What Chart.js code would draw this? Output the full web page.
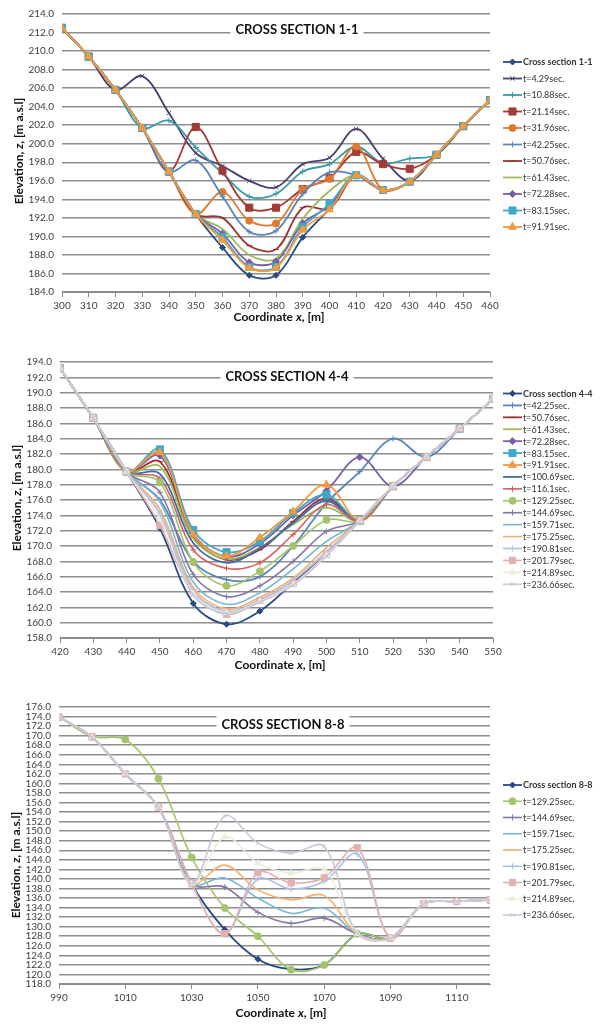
<!DOCTYPE html>
<html>
<head>
<meta charset="utf-8">
<script src="https://cdn.jsdelivr.net/npm/chart.js@4.4.1/dist/chart.umd.min.js"></script>
<style>
  html, body { margin: 0; padding: 0; background: #ffffff; }
  #wrap { position: relative; width: 605px; height: 1027px; overflow: hidden; }
  canvas { position: absolute; left: 0; }
</style>
</head>
<body>
<div id="wrap">
  <canvas id="c1" width="605" height="335" style="top:0px"></canvas>
  <canvas id="c2" width="605" height="335" style="top:340px"></canvas>
  <canvas id="c3" width="605" height="342" style="top:685px"></canvas>
</div>
<script>
// ---------- Cross section 1-1 ----------
const sec11X = [300, 310, 320, 330, 340, 350, 360, 370, 380, 390, 400, 410, 420, 430, 440, 450, 460];
const sec11Ticks = [300, 310, 320, 330, 340, 350, 360, 370, 380, 390, 400, 410, 420, 430, 440, 450, 460];
const sec11Base  = [212.5, 209.4, 205.8, 201.7, 197.0, 192.4, 188.8, 185.8, 185.8, 189.9, 193.0, 196.6, 195.0, 195.9, 198.8, 201.9, 204.7];
const sec11T4_29 = [212.5, 209.4, 205.8, 207.3, 203.3, 199.0, 197.6, 196.0, 195.3, 197.8, 198.5, 201.6, 198.4, 196.0, 198.8, 201.9, 204.7];
const sec11T10_88 = [212.5, 209.4, 205.8, 201.7, 202.5, 199.6, 196.8, 194.3, 194.6, 197.0, 197.8, 199.7, 197.9, 198.4, 198.8, 201.9, 204.7];
const sec11T21_14 = [212.5, 209.4, 205.8, 201.7, 197.0, 201.8, 197.1, 193.1, 193.1, 195.1, 196.3, 199.1, 197.8, 197.3, 198.8, 201.9, 204.7];
const sec11T31_96 = [212.5, 209.4, 205.8, 201.7, 197.0, 192.4, 194.8, 191.7, 191.4, 195.1, 196.2, 199.7, 195.0, 195.9, 198.8, 201.9, 204.7];
const sec11T42_25 = [212.5, 209.4, 205.8, 201.7, 197.0, 198.2, 194.3, 190.5, 190.6, 194.6, 196.9, 196.6, 195.0, 195.9, 198.8, 201.9, 204.7];
const sec11T50_76 = [212.5, 209.4, 205.8, 201.7, 197.0, 192.4, 192.0, 189.0, 188.6, 193.1, 193.0, 196.6, 195.0, 195.9, 198.8, 201.9, 204.7];
const sec11T61_43 = [212.5, 209.4, 205.8, 201.7, 197.0, 192.4, 190.8, 188.0, 187.6, 191.9, 194.9, 196.6, 195.0, 195.9, 198.8, 201.9, 204.7];
const sec11T72_28 = [212.5, 209.4, 205.8, 201.7, 197.0, 192.4, 190.3, 187.2, 187.3, 191.4, 193.3, 196.6, 195.0, 195.9, 198.8, 201.9, 204.7];
const sec11T83_15 = [212.5, 209.4, 205.8, 201.7, 197.0, 192.4, 189.9, 186.7, 186.7, 191.0, 193.5, 196.6, 195.0, 195.9, 198.8, 201.9, 204.7];
const sec11T91_91 = [212.5, 209.4, 205.8, 201.7, 197.0, 192.4, 189.6, 186.6, 186.6, 190.7, 192.9, 196.6, 195.0, 195.9, 198.8, 201.9, 204.7];

// ---------- Cross section 4-4 ----------
const sec44X = [420, 430, 440, 450, 460, 470, 480, 490, 500, 510, 520, 530, 540, 550];
const sec44Ticks = [420, 430, 440, 450, 460, 470, 480, 490, 500, 510, 520, 530, 540, 550];
const sec44Base   = [193.2, 186.7, 179.7, 172.3, 162.5, 159.8, 161.5, 165.2, 168.9, 173.3, 177.8, 181.6, 185.3, 189.2];
const sec44T42_25 = [193.2, 186.7, 179.7, 176.0, 168.0, 165.6, 166.0, 170.0, 175.6, 179.7, 184.0, 181.6, 185.3, 189.2];
const sec44T50_76 = [193.2, 186.7, 179.7, 181.0, 171.2, 168.2, 169.5, 173.2, 176.2, 173.3, 177.8, 181.6, 185.3, 189.2];
const sec44T61_43 = [193.2, 186.7, 179.7, 180.4, 171.0, 168.3, 169.8, 172.8, 175.0, 173.3, 177.8, 181.6, 185.3, 189.2];
const sec44T72_28 = [193.2, 186.7, 179.7, 181.8, 171.6, 168.6, 170.3, 174.0, 177.2, 181.6, 177.8, 181.6, 185.3, 189.2];
const sec44T83_15 = [193.2, 186.7, 179.7, 182.6, 172.1, 169.2, 170.6, 174.3, 176.7, 173.3, 177.8, 181.6, 185.3, 189.2];
const sec44T91_91 = [193.2, 186.7, 179.7, 182.2, 171.5, 168.7, 171.1, 174.5, 178.0, 173.3, 177.8, 181.6, 185.3, 189.2];
const sec44T100_69 = [193.2, 186.7, 179.7, 179.4, 170.4, 167.8, 169.7, 173.0, 175.9, 173.3, 177.8, 181.6, 185.3, 189.2];
const sec44T116_1  = [193.2, 186.7, 179.7, 178.8, 169.5, 167.1, 167.8, 171.5, 175.4, 173.3, 177.8, 181.6, 185.3, 189.2];
const sec44T129_25 = [193.2, 186.7, 179.7, 178.3, 167.9, 164.8, 166.7, 170.0, 173.4, 173.3, 177.8, 181.6, 185.3, 189.2];
const sec44T144_69 = [193.2, 186.7, 179.7, 177.0, 166.3, 163.4, 164.8, 168.0, 171.9, 173.3, 177.8, 181.6, 185.3, 189.2];
const sec44T159_71 = [193.2, 186.7, 179.7, 175.8, 165.3, 162.4, 163.9, 167.0, 170.6, 173.3, 177.8, 181.6, 185.3, 189.2];
const sec44T175_25 = [193.2, 186.7, 179.7, 174.8, 164.6, 161.8, 163.3, 165.8, 169.8, 173.3, 177.8, 181.6, 185.3, 189.2];
const sec44T190_81 = [193.2, 186.7, 179.7, 174.3, 164.2, 161.5, 163.0, 165.5, 169.3, 173.3, 177.8, 181.6, 185.3, 189.2];
const sec44T201_79 = [193.2, 186.7, 179.7, 172.7, 163.9, 161.1, 162.9, 165.1, 168.9, 173.3, 177.8, 181.6, 185.3, 189.2];
const sec44T214_89 = [193.2, 186.7, 179.7, 173.5, 163.8, 161.3, 162.8, 165.0, 168.8, 173.3, 177.8, 181.6, 185.3, 189.2];
const sec44T236_66 = [193.2, 186.7, 179.7, 174.1, 163.6, 161.2, 162.7, 164.9, 168.7, 173.3, 177.8, 181.6, 185.3, 189.2];

// ---------- Cross section 8-8 ----------
const sec88X = [990, 1000, 1010, 1020, 1030, 1040, 1050, 1060, 1070, 1080, 1090, 1100, 1110, 1120];
const sec88Ticks = [990, 1010, 1030, 1050, 1070, 1090, 1110];
const sec88Base    = [173.9, 169.7, 162.0, 155.0, 139.0, 129.4, 123.2, 121.1, 122.0, 128.5, 127.6, 134.8, 135.3, 135.6];
const sec88T129_25 = [173.9, 169.8, 169.2, 161.0, 144.5, 133.9, 128.0, 121.0, 122.0, 128.5, 127.6, 134.8, 135.3, 135.6];
const sec88T144_69 = [173.9, 169.7, 162.0, 155.0, 139.0, 138.3, 133.0, 130.7, 131.8, 128.5, 127.6, 134.8, 135.3, 135.6];
const sec88T159_71 = [173.9, 169.7, 162.0, 155.0, 139.0, 140.2, 136.0, 132.8, 133.9, 128.5, 127.6, 134.8, 135.3, 135.6];
const sec88T175_25 = [173.9, 169.7, 162.0, 155.0, 139.0, 142.9, 137.7, 135.6, 136.5, 128.5, 127.6, 134.8, 135.3, 135.6];
const sec88T190_81 = [173.9, 169.7, 162.0, 155.0, 139.0, 128.5, 140.0, 137.9, 139.5, 145.2, 127.6, 134.8, 135.3, 135.6];
const sec88T201_79 = [173.9, 169.7, 162.0, 155.0, 139.0, 128.5, 141.3, 139.2, 140.3, 146.5, 127.6, 134.8, 135.3, 135.6];
const sec88T214_89 = [173.9, 169.7, 162.0, 155.0, 139.0, 148.8, 143.3, 141.2, 142.0, 128.5, 127.6, 134.8, 135.3, 135.6];
const sec88T236_66 = [173.9, 169.7, 162.0, 155.0, 139.0, 153.2, 147.5, 145.4, 146.8, 128.5, 127.6, 134.8, 135.3, 135.6];

// ---------- Series appearance (by time step) ----------
const STYLE = {
  base:  { color: '#284a82', point: 'rectRot',  r: 3,   w: 1.8 },
  t4:    { color: '#4a3e6e', point: 'crossRot', r: 3,   w: 1.8 },
  t10:   { color: '#3b9aa6', point: 'cross',    r: 3,   w: 1.8 },
  t21:   { color: '#a23a35', point: 'rect',     r: 5,   w: 1.8 },
  t31:   { color: '#e0792e', point: 'circle',   r: 3.5, w: 1.8 },
  t42:   { color: '#5b84b8', point: 'cross',    r: 3,   w: 1.8 },
  t50:   { color: '#9c3130', point: 'line',     r: 3,   w: 1.8 },
  t61:   { color: '#9bbb59', point: 'circle',   r: 0,   w: 1.8 },
  t72:   { color: '#7a5ea6', point: 'rectRot',  r: 3.5, w: 1.8 },
  t83:   { color: '#3fa9c9', point: 'rect',     r: 5,   w: 1.8 },
  t91:   { color: '#f39a3d', point: 'triangle', r: 4.5, w: 1.8 },
  t100:  { color: '#3f6fa8', point: 'circle',   r: 0,   w: 1.8 },
  t116:  { color: '#d2625e', point: 'cross',    r: 3,   w: 1.6 },
  t129:  { color: '#a3c46a', point: 'circle',   r: 3.5, w: 1.6 },
  t144:  { color: '#8676a6', point: 'cross',    r: 3,   w: 1.6 },
  t159:  { color: '#76b8cf', point: 'circle',   r: 0,   w: 1.6 },
  t175:  { color: '#f5ad6c', point: 'circle',   r: 0,   w: 1.6 },
  t190:  { color: '#abc0e4', point: 'cross',    r: 3,   w: 1.6 },
  t201:  { color: '#e3b0b0', point: 'rect',     r: 4.5, w: 1.6 },
  t214:  { color: '#e9efdc', point: 'triangle', r: 3.5, w: 1.6 },
  t236:  { color: '#cbc5da', point: 'crossRot', r: 3,   w: 1.6 }
};

function makeSet(label, xs, ys, st, idx, n) {
  return {
    label: label,
    data: xs.map((x, i) => ({ x: x, y: ys[i] })),
    borderColor: st.color,
    backgroundColor: st.color,
    borderWidth: st.w,
    pointStyle: st.point,
    pointRadius: st.r,
    pointHoverRadius: st.r,
    pointBorderWidth: 1,
    pointBackgroundColor: st.color,
    pointBorderColor: st.color,
    tension: 0.35,
    fill: false,
    order: n - idx
  };
}

function buildSets(xs, list) {
  return list.map((s, i) => makeSet(s[0], xs, s[1], STYLE[s[2]], i, list.length));
}

// Title, axis titles and the line+marker legend are painted here
const decor = {
  id: 'sheetDecor',
  afterDraw(chart, args, o) {
    const ctx = chart.ctx;
    ctx.save();
    // chart title on a white box over the gridlines
    ctx.font = 'bold 13px Lato, "Open Sans", sans-serif';
    const tw = ctx.measureText(o.title).width;
    ctx.fillStyle = '#ffffff';
    ctx.fillRect(o.titleX - tw / 2 - 5, o.boxTop, tw + 10, o.boxH);
    ctx.fillStyle = '#111111';
    ctx.textAlign = 'center';
    ctx.textBaseline = 'middle';
    ctx.fillText(o.title, o.titleX, o.titleY);

    // axis titles with italic variable names
    const B = 'bold 12px Lato, "Open Sans", sans-serif';
    const BI = 'italic bold 12px Lato, "Open Sans", sans-serif';
    drawRich(ctx, [['Coordinate ', B], ['x', BI], [', [m]', B]], o.xTitle[0], o.xTitle[1], 0);
    drawRich(ctx, [['Elevation, ', B], ['z', BI], [', [m a.s.l]', B]], o.yTitle[0], o.yTitle[1], -Math.PI / 2);

    // legend
    chart.data.datasets.forEach((ds, i) => {
      const y = o.legY + i * o.legStep;
      const x0 = o.legX;
      ctx.strokeStyle = ds.borderColor;
      ctx.lineWidth = ds.borderWidth;
      ctx.beginPath();
      ctx.moveTo(x0, y);
      ctx.lineTo(x0 + 19, y);
      ctx.stroke();
      if (ds.pointRadius > 0) {
        ctx.fillStyle = ds.pointBackgroundColor;
        ctx.strokeStyle = ds.pointBorderColor;
        ctx.lineWidth = 1;
        Chart.helpers.drawPoint(ctx, { pointStyle: ds.pointStyle, radius: ds.pointRadius, rotation: 0, borderWidth: 1 }, x0 + 9.5, y);
      }
      ctx.font = (i === 0 ? 'bold ' : '') + '9px Lato, "Open Sans", sans-serif';
      ctx.fillStyle = '#333333';
      ctx.textAlign = 'left';
      ctx.textBaseline = 'middle';
      ctx.fillText(ds.label, x0 + 20, y + 0.5);
    });
    ctx.restore();
  }
};

function drawRich(ctx, parts, cx, cy, rot) {
  ctx.save();
  ctx.translate(cx, cy);
  ctx.rotate(rot);
  let total = 0;
  parts.forEach(p => { ctx.font = p[1]; total += ctx.measureText(p[0]).width; });
  let x = -total / 2;
  ctx.fillStyle = '#111111';
  ctx.textAlign = 'left';
  ctx.textBaseline = 'middle';
  parts.forEach(p => { ctx.font = p[1]; ctx.fillText(p[0], x, 0); x += ctx.measureText(p[0]).width; });
  ctx.restore();
}

const TICK_FONT = { family: 'Lato, "Open Sans", sans-serif', size: 10 };

function makeChart(id, cfg) {
  return new Chart(document.getElementById(id), {
    type: 'line',
    data: { datasets: cfg.sets },
    plugins: [decor],
    options: {
      responsive: false,
      animation: false,
      devicePixelRatio: 1,
      layout: { padding: cfg.pad },
      plugins: {
        legend: { display: false },
        tooltip: { enabled: false },
        sheetDecor: cfg.decor
      },
      scales: {
        x: {
          type: 'linear',
          min: cfg.xMin, max: cfg.xMax,
          afterBuildTicks: s => { s.ticks = cfg.xTicks.map(v => ({ value: v })); },
          ticks: { autoSkip: false, maxRotation: 0, font: TICK_FONT, color: '#404040', padding: 3, callback: v => String(v) },
          grid: { drawOnChartArea: false, drawTicks: true, tickLength: 5, color: '#8a8a8a' },
          border: { display: true, color: '#8a8a8a', width: 1 },
          afterFit: s => { s.height = cfg.xH; }
        },
        y: {
          type: 'linear',
          min: cfg.yMin, max: cfg.yMax,
          ticks: { stepSize: 2, autoSkip: false, font: TICK_FONT, color: '#404040', padding: 8, callback: v => Number(v).toFixed(1) },
          grid: { color: '#8e8e8e', lineWidth: 1.5, drawTicks: false },
          border: { display: false },
          afterFit: s => { s.width = cfg.yW; }
        }
      }
    }
  });
}

makeChart('c1', {
  sets: buildSets(sec11X, [
    ['Cross section 1-1', sec11Base, 'base'],
    ['t=4.29sec.', sec11T4_29, 't4'],
    ['t=10.88sec.', sec11T10_88, 't10'],
    ['t=21.14sec.', sec11T21_14, 't21'],
    ['t=31.96sec.', sec11T31_96, 't31'],
    ['t=42.25sec.', sec11T42_25, 't42'],
    ['t=50.76sec.', sec11T50_76, 't50'],
    ['t=61.43sec.', sec11T61_43, 't61'],
    ['t=72.28sec.', sec11T72_28, 't72'],
    ['t=83.15sec.', sec11T83_15, 't83'],
    ['t=91.91sec.', sec11T91_91, 't91']
  ]),
  xMin: 300, xMax: 460, xTicks: sec11Ticks, yMin: 184, yMax: 214,
  pad: { top: 11, right: 115, bottom: 0, left: 0 }, yW: 62, xH: 43,
  decor: { title: 'CROSS SECTION 1-1', titleX: 297, titleY: 30, boxTop: 21, boxH: 19,
           xTitle: [279, 317], yTitle: [19, 151], legX: 503, legY: 62, legStep: 16.5 }
});

makeChart('c2', {
  sets: buildSets(sec44X, [
    ['Cross section 4-4', sec44Base, 'base'],
    ['t=42.25sec.', sec44T42_25, 't42'],
    ['t=50.76sec.', sec44T50_76, 't50'],
    ['t=61.43sec.', sec44T61_43, 't61'],
    ['t=72.28sec.', sec44T72_28, 't72'],
    ['t=83.15sec.', sec44T83_15, 't83'],
    ['t=91.91sec.', sec44T91_91, 't91'],
    ['t=100.69sec.', sec44T100_69, 't100'],
    ['t=116.1sec.', sec44T116_1, 't116'],
    ['t=129.25sec.', sec44T129_25, 't129'],
    ['t=144.69sec.', sec44T144_69, 't144'],
    ['t=159.71sec.', sec44T159_71, 't159'],
    ['t=175.25sec.', sec44T175_25, 't175'],
    ['t=190.81sec.', sec44T190_81, 't190'],
    ['t=201.79sec.', sec44T201_79, 't201'],
    ['t=214.89sec.', sec44T214_89, 't214'],
    ['t=236.66sec.', sec44T236_66, 't236']
  ]),
  xMin: 420, xMax: 550, xTicks: sec44Ticks, yMin: 158, yMax: 194,
  pad: { top: 22, right: 112, bottom: 0, left: 0 }, yW: 60, xH: 37,
  decor: { title: 'CROSS SECTION 4-4', titleX: 287, titleY: 37, boxTop: 28, boxH: 19,
           xTitle: [280, 325], yTitle: [17, 158], legX: 503, legY: 53.5, legStep: 11.92 }
});

makeChart('c3', {
  sets: buildSets(sec88X, [
    ['Cross section 8-8', sec88Base, 'base'],
    ['t=129.25sec.', sec88T129_25, 't129'],
    ['t=144.69sec.', sec88T144_69, 't144'],
    ['t=159.71sec.', sec88T159_71, 't159'],
    ['t=175.25sec.', sec88T175_25, 't175'],
    ['t=190.81sec.', sec88T190_81, 't190'],
    ['t=201.79sec.', sec88T201_79, 't201'],
    ['t=214.89sec.', sec88T214_89, 't214'],
    ['t=236.66sec.', sec88T236_66, 't236']
  ]),
  xMin: 990, xMax: 1120, xTicks: sec88Ticks, yMin: 118, yMax: 176,
  pad: { top: 22, right: 115, bottom: 0, left: 0 }, yW: 59, xH: 43,
  decor: { title: 'CROSS SECTION 8-8', titleX: 283, titleY: 40, boxTop: 28, boxH: 20,
           xTitle: [281, 328], yTitle: [16, 180], legX: 503, legY: 100, legStep: 16.25 }
});
</script>
</body>
</html>
